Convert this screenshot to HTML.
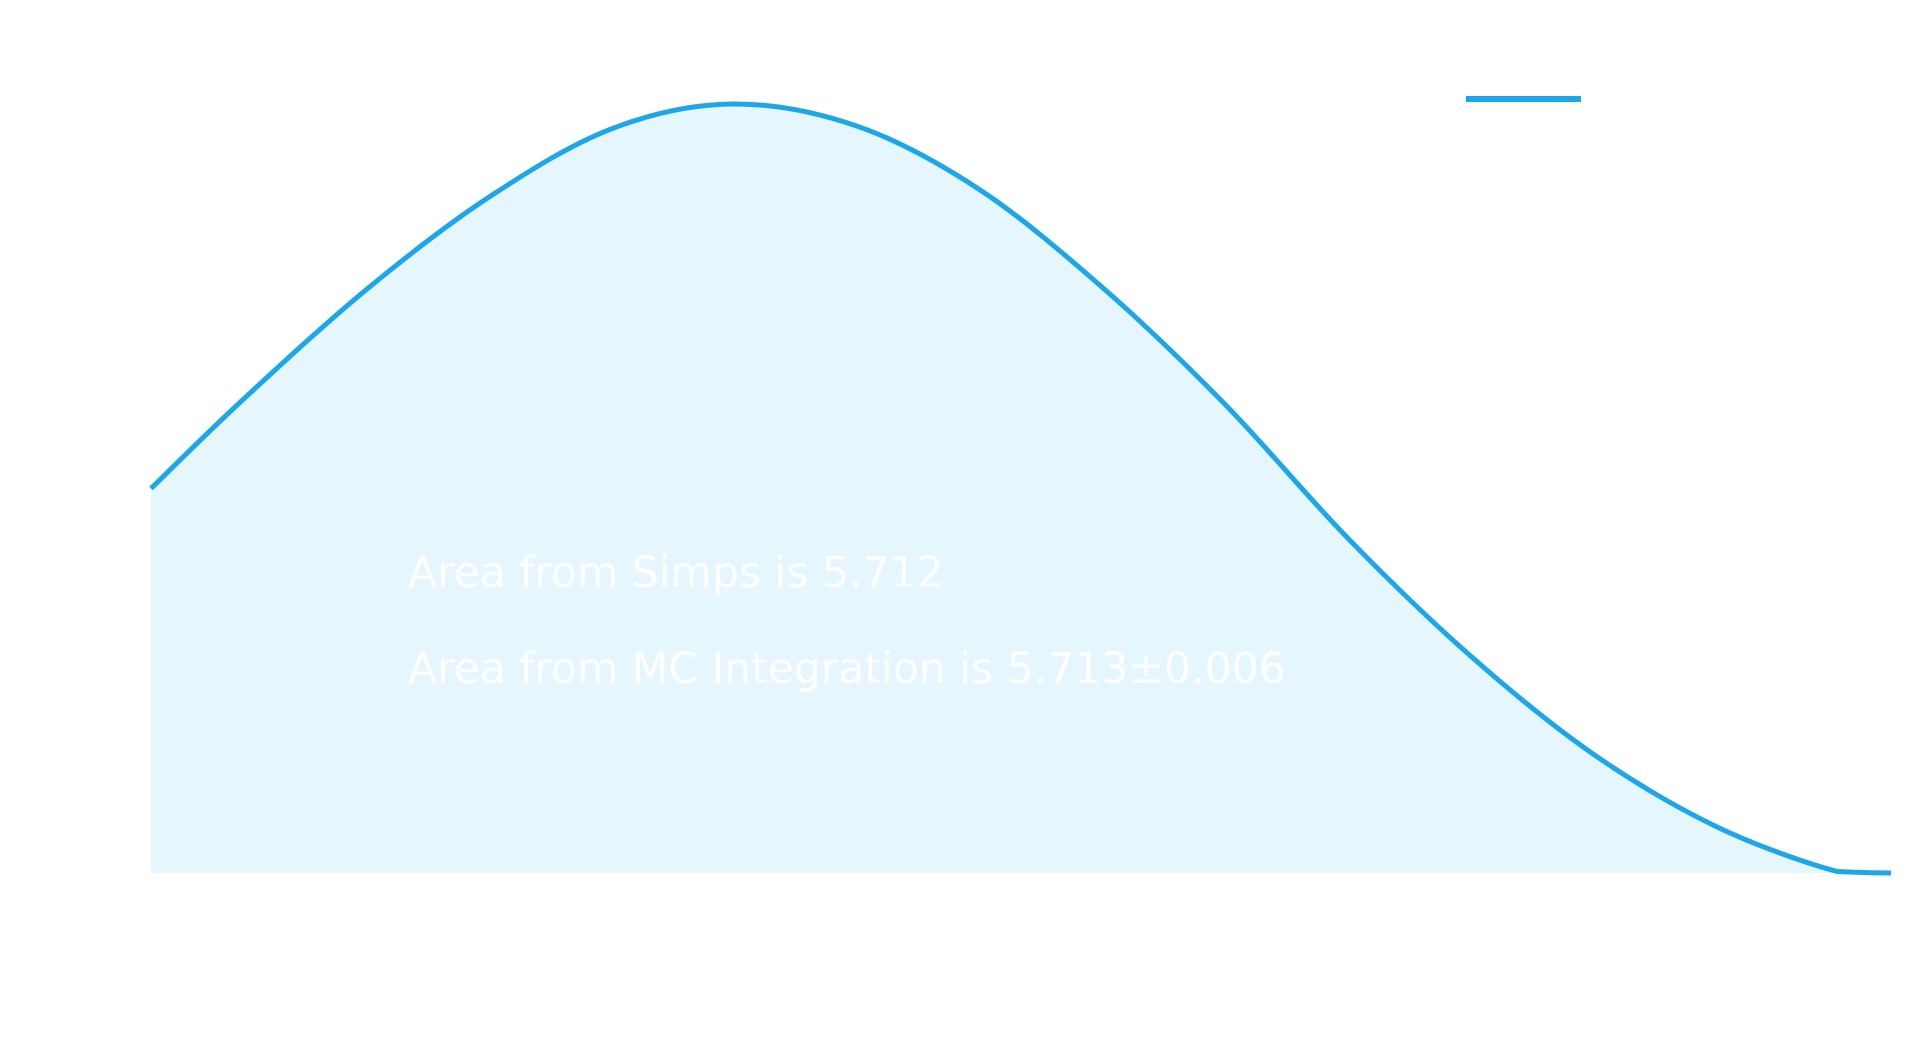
<!DOCTYPE html>
<html><head><meta charset="utf-8"><style>
html,body{margin:0;padding:0;background:#fff;width:1920px;height:1051px;overflow:hidden;font-family:"Liberation Sans",sans-serif}
</style></head><body>
<svg id="chart" width="1920" height="1051" xmlns="http://www.w3.org/2000/svg">
<g id="plot"></g>
<line x1="1466" y1="99" x2="1581" y2="99" stroke="#1ea7e8" stroke-width="6"/>
<text x="408" y="587" font-size="42.5" fill="#ffffff" font-family="DejaVu Sans, sans-serif">Area from Simps is 5.712</text>
<text x="408" y="683" font-size="42.5" fill="#ffffff" font-family="DejaVu Sans, sans-serif">Area from MC Integration is 5.713±0.006</text>
</svg>
<script>
const xs=[0,0.054,0.125,0.195,0.265,0.334,0.406,0.476,0.547,0.617,0.688,0.758,0.828,0.899,0.969,1.0];
const ys=[0.50,0.618,0.761,0.88,0.968,1.0,0.971,0.889,0.761,0.610,0.435,0.283,0.156,0.061,0.002,0];
const X0=151,X1=1891,YB=873,YT=104;
function sx(v){return X0+(X1-X0)*v;}
function sy(v){return YB-(YB-YT)*v;}
const pts=xs.map((x,i)=>[sx(x),sy(ys[i])]);
function spline(p){let d=`M${p[0][0]},${p[0][1]}`;for(let i=0;i<p.length-1;i++){const a=p[Math.max(i-1,0)],b=p[i],c=p[i+1],e=p[Math.min(i+2,p.length-1)];
const c1=[b[0]+(c[0]-a[0])/6,b[1]+(c[1]-a[1])/6],c2=[c[0]-(e[0]-b[0])/6,c[1]-(e[1]-b[1])/6];
d+=` C${c1[0]},${Math.min(c1[1],YB)} ${c2[0]},${Math.min(c2[1],YB)} ${c[0]},${c[1]}`;}return d;}
const g=document.getElementById('plot');
const ns='http://www.w3.org/2000/svg';
const line=spline(pts);
const area=document.createElementNS(ns,'path');


area.setAttribute('d',line+` L${sx(xs[xs.length-1])},${YB} L${sx(xs[0])},${YB} Z`);
area.setAttribute('fill','#e6f6fd');
g.appendChild(area);
const l=document.createElementNS(ns,'path');


l.setAttribute('d',line);
l.setAttribute('fill','none');
l.setAttribute('stroke','#1ea7e8');
l.setAttribute('stroke-width','5');
g.appendChild(l);
</script>
</body></html>
